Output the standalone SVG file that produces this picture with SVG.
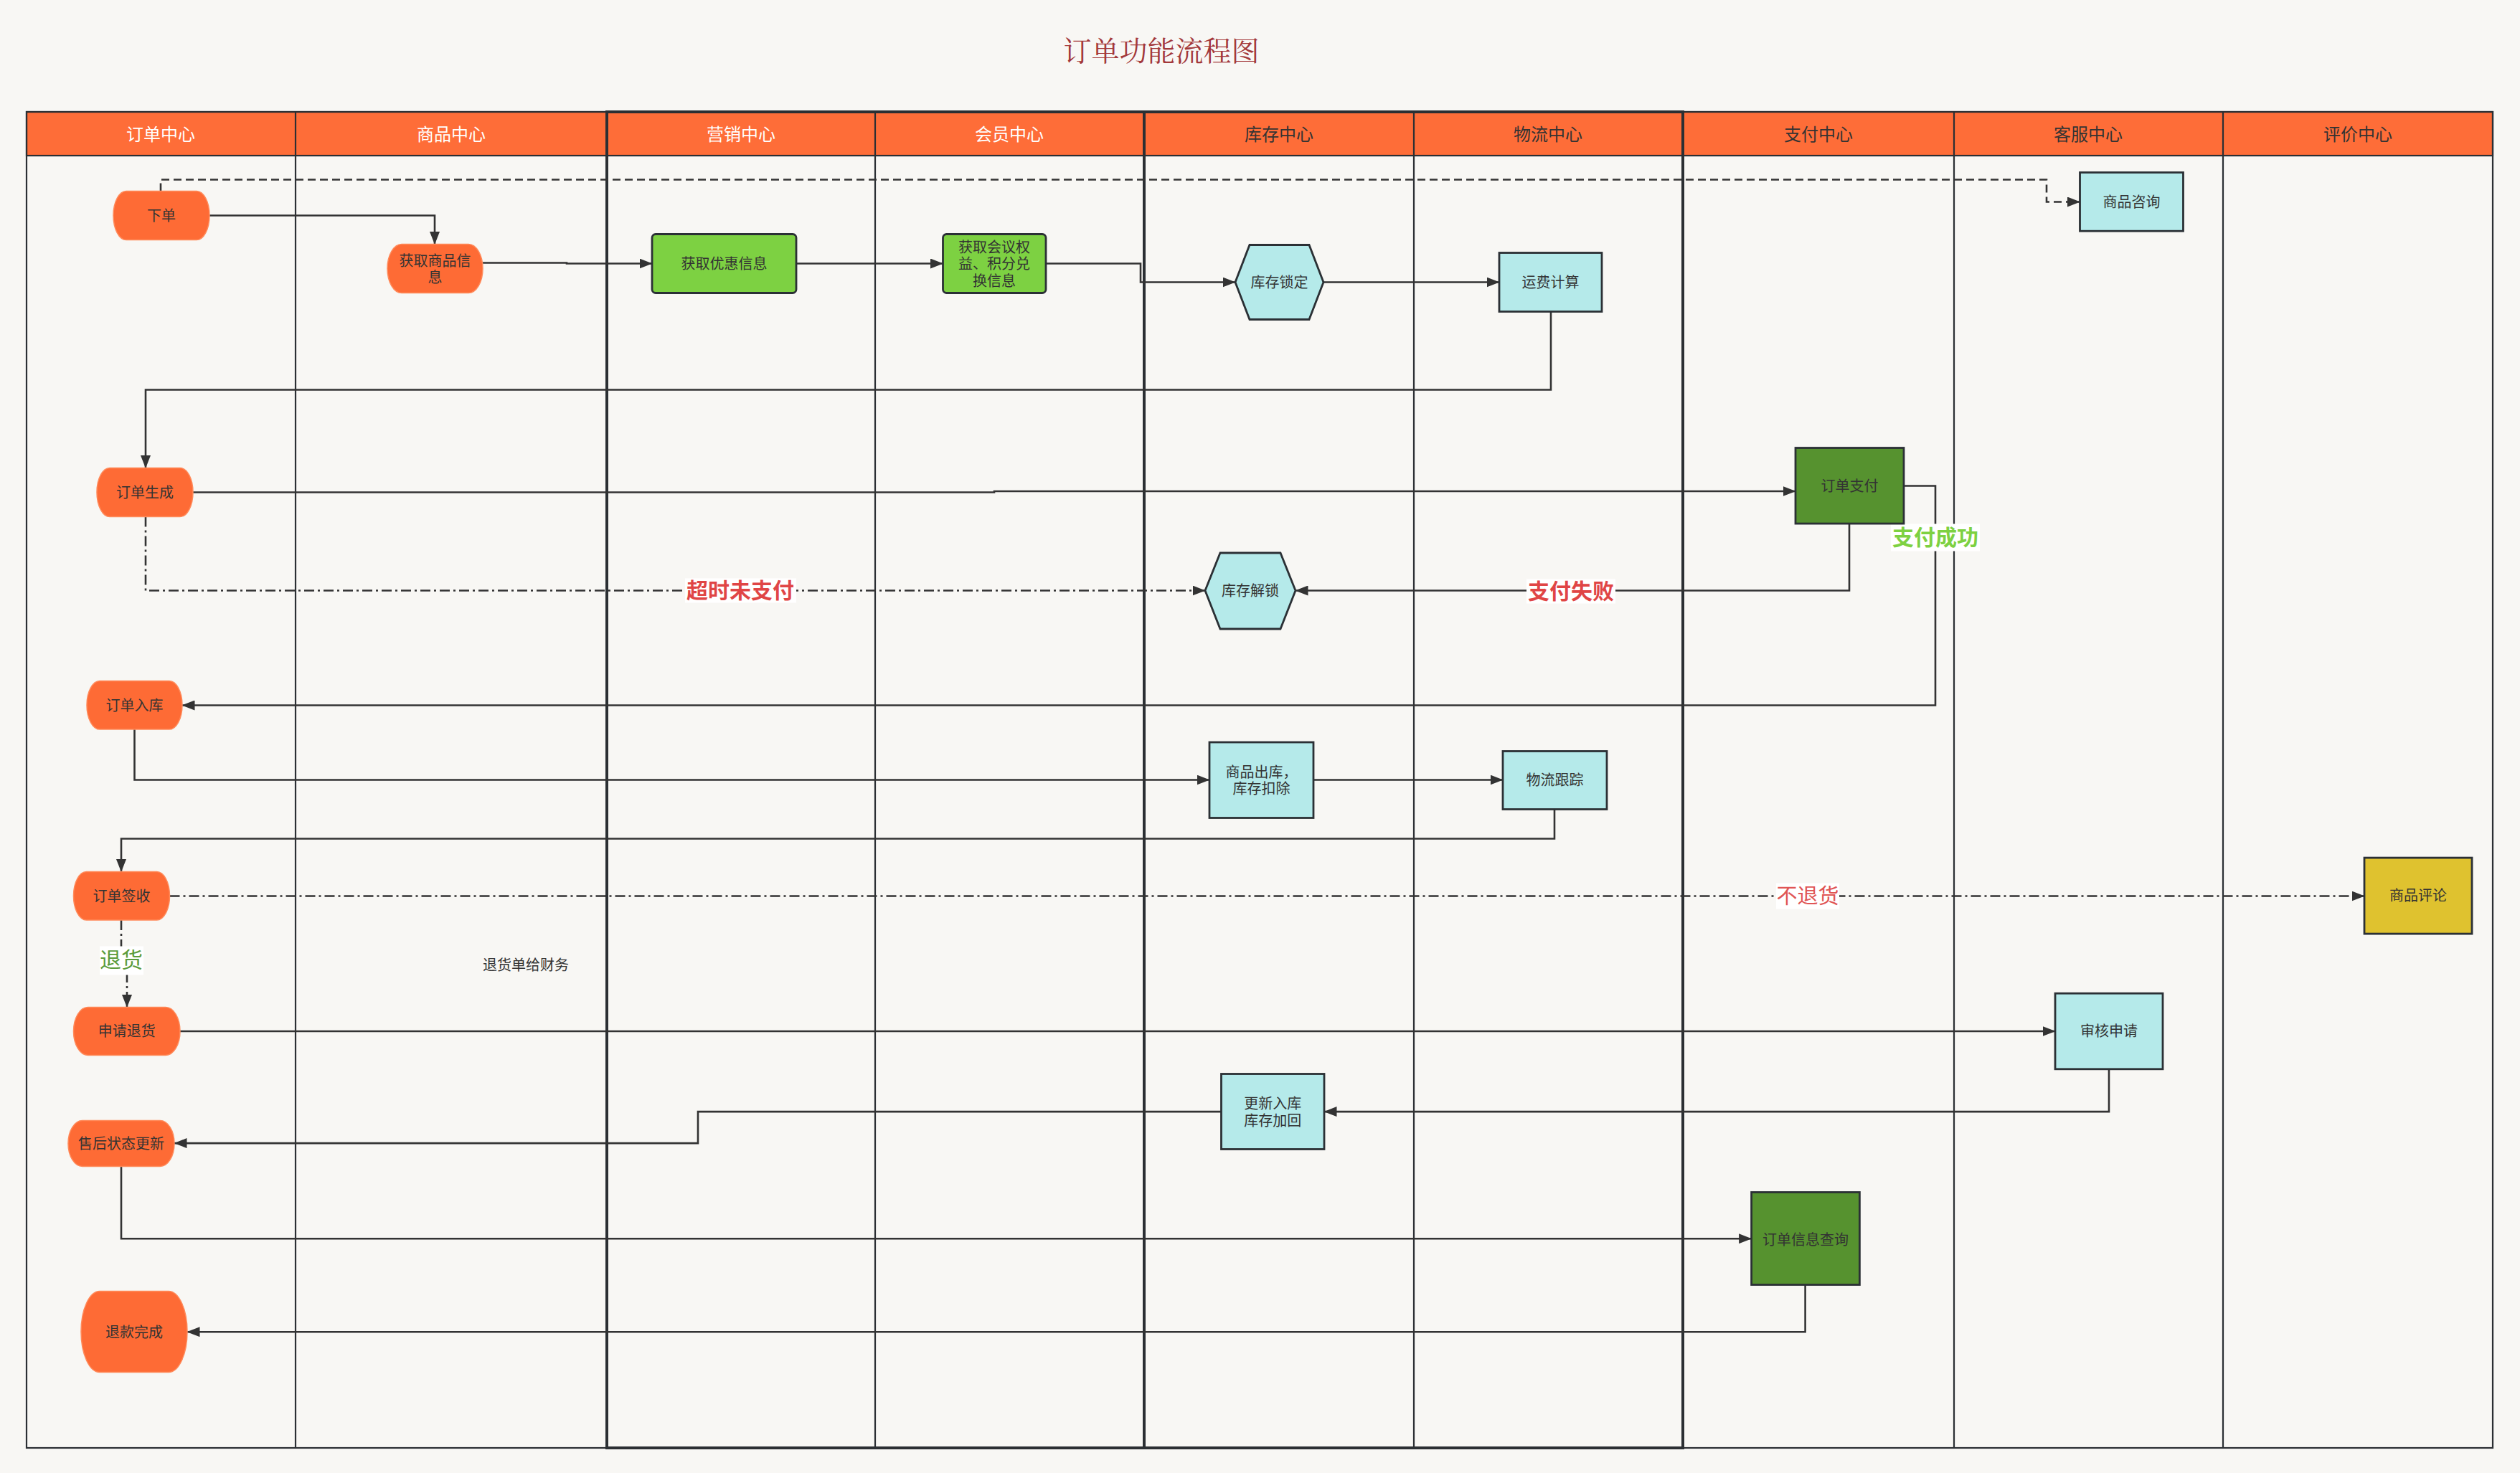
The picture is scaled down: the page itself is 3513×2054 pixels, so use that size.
<svg xmlns="http://www.w3.org/2000/svg" width="3513" height="2054" viewBox="0 0 3513 2054">
<style>
text{font-family:"Liberation Sans","Noto Sans CJK SC",sans-serif;dominant-baseline:central;text-anchor:middle}
.lane{fill:none;stroke:#2b2f33;stroke-width:2.2}
.thick{fill:none;stroke:#2b2f33;stroke-width:4}
.hdr{fill:#FE6D38;stroke:#2b2f33;stroke-width:2.2}
.ht{font-size:24px}
.hw{fill:#ffffff}
.hd{fill:#333333}
.term{fill:#FE6B35;stroke:#FF8A5A;stroke-width:1.5}
.box{stroke:#2b3035;stroke-width:2.8}
.cyan{fill:#B5EAEA}
.lg{fill:#7DD142}
.dg{fill:#56922F}
.gold{fill:#DFC22F}
.nt{font-size:20px;fill:#333333}
.c{fill:none;stroke:#333333;stroke-width:2.6}
.dash{stroke-dasharray:11 6}
.dd{stroke-dasharray:14 5 3 5}
.lbg{fill:#ffffff}
.lb{font-size:30px;font-weight:bold}
</style>
<defs>
<marker id="ah" markerUnits="userSpaceOnUse" markerWidth="18" markerHeight="14" refX="17.5" refY="7" orient="auto"><path d="M0,0 L18,7 L0,14 z" fill="#333333"/></marker>
</defs>
<rect x="0" y="0" width="3513" height="2054" fill="#F8F7F4"/>
<text x="1619" y="68" style="font-family:'Noto Serif CJK SC','Noto Sans CJK SC',serif;font-size:39px;fill:#A3383A">订单功能流程图</text>
<g id="lanes">
<rect class="hdr" x="37" y="156" width="3438" height="61"/>
<rect class="lane" x="37" y="156" width="3438" height="1863"/>
<line class="lane" x1="412" y1="156" x2="412" y2="2019"/>
<line class="lane" x1="1220" y1="156" x2="1220" y2="2019"/>
<line class="lane" x1="1971" y1="156" x2="1971" y2="2019"/>
<line class="lane" x1="2724" y1="156" x2="2724" y2="2019"/>
<line class="lane" x1="3099" y1="156" x2="3099" y2="2019"/>
<rect class="thick" x="846" y="156" width="1500" height="1863"/>
<line class="thick" x1="1595" y1="156" x2="1595" y2="2019"/>
<line class="lane" x1="37" y1="217" x2="3475" y2="217"/>
<text class="ht hw" x="224" y="187">订单中心</text>
<text class="ht hw" x="629" y="187">商品中心</text>
<text class="ht hw" x="1033" y="187">营销中心</text>
<text class="ht hw" x="1407" y="187">会员中心</text>
<text class="ht hd" x="1783" y="187">库存中心</text>
<text class="ht hd" x="2158" y="187">物流中心</text>
<text class="ht hd" x="2535" y="187">支付中心</text>
<text class="ht hd" x="2911" y="187">客服中心</text>
<text class="ht hd" x="3287" y="187">评价中心</text>
</g>
<g id="connectors" transform="translate(0,1.5)">
<path class="c dash" d="M224,265 V249 H2853 V280 H2899.5" marker-end="url(#ah)"/>
<path class="c" d="M292,299 H606 V339" marker-end="url(#ah)"/>
<path class="c" d="M673,365 H790 V366 H909" marker-end="url(#ah)"/>
<path class="c" d="M1110,366 H1314.5" marker-end="url(#ah)"/>
<path class="c" d="M1458,366 H1590 V392 H1722" marker-end="url(#ah)"/>
<path class="c" d="M1845,392 H2090" marker-end="url(#ah)"/>
<path class="c" d="M2162,433 V542 H203 V651" marker-end="url(#ah)"/>
<path class="c" d="M269,685 H1386 V683.5 H2503" marker-end="url(#ah)"/>
<path class="c dd" d="M203,719 V822 H1680" marker-end="url(#ah)"/>
<path class="c" d="M2578,728.6 V822 H1806" marker-end="url(#ah)"/>
<path class="c" d="M2654,676 H2698 V982 H254" marker-end="url(#ah)"/>
<path class="c" d="M187.5,1015.6 V1086 H1686" marker-end="url(#ah)"/>
<path class="c" d="M1831,1086 H2095" marker-end="url(#ah)"/>
<path class="c" d="M2167,1127 V1168 H169 V1214" marker-end="url(#ah)"/>
<path class="c dd" d="M236.5,1248 H3296" marker-end="url(#ah)"/>
<path class="c dd" d="M169,1281.5 V1337 H177 V1403" marker-end="url(#ah)"/>
<path class="c" d="M251,1436.5 H2865" marker-end="url(#ah)"/>
<path class="c" d="M2940,1489.3 V1548.6 H1846" marker-end="url(#ah)"/>
<path class="c" d="M1702.5,1548.6 H973 V1592.6 H243" marker-end="url(#ah)"/>
<path class="c" d="M169,1625 V1725.7 H2441.6" marker-end="url(#ah)"/>
<path class="c" d="M2516.6,1790 V1855.7 H261" marker-end="url(#ah)"/>
<rect class="lbg" x="955" y="805" width="155" height="34"/>
<text class="lb" x="1032" y="822" fill="#E04545">超时未支付</text>
<rect class="lbg" x="2128" y="806" width="124" height="34"/>
<text class="lb" x="2190" y="823" fill="#E04545">支付失败</text>
<rect class="lbg" x="2636" y="729" width="124" height="38"/>
<text class="lb" x="2698" y="748" fill="#7DD142">支付成功</text>
<rect class="lbg" x="2476" y="1230" width="88" height="36"/>
<text x="2520" y="1248" style="font-size:29px;fill:#E05555">不退货</text>
<rect class="lbg" x="139" y="1318" width="61" height="40"/>
<text x="169" y="1337" style="font-size:30px;fill:#5B9B3A">退货</text>
<text x="733" y="1344" style="font-size:20px;fill:#333333">退货单给财务</text>
</g>
<g id="nodes" transform="translate(0,1.5)">
<g id="n-xiadan"><rect class="term" x="158" y="265" width="134" height="68" rx="18" ry="34"/><text class="nt" x="225" y="299">下单</text></g>
<g id="n-shangpin"><rect class="term" x="540" y="339" width="133" height="68" rx="20" ry="34"/><text class="nt" x="606.5" y="362">获取商品信</text><text class="nt" x="606.5" y="385">息</text></g>
<g id="n-youhui"><rect class="box lg" x="909" y="325" width="201" height="82" rx="5"/><text class="nt" x="1009.5" y="366">获取优惠信息</text></g>
<g id="n-huiyuan"><rect class="box lg" x="1314.5" y="325" width="143.5" height="82" rx="5"/><text class="nt" x="1386" y="343">获取会议权</text><text class="nt" x="1386" y="366.5">益、积分兑</text><text class="nt" x="1386" y="390">换信息</text></g>
<g id="n-suoding"><polygon class="box cyan" points="1722,392 1742,340 1825,340 1845,392 1825,444 1742,444"/><text class="nt" x="1783.5" y="392">库存锁定</text></g>
<g id="n-yunfei"><rect class="box cyan" x="2090" y="351" width="143" height="82"/><text class="nt" x="2161.5" y="392">运费计算</text></g>
<g id="n-zixun"><rect class="box cyan" x="2899.5" y="239" width="144" height="81.7"/><text class="nt" x="2971.5" y="280">商品咨询</text></g>
<g id="n-shengcheng"><rect class="term" x="135" y="651" width="134" height="68" rx="18" ry="34"/><text class="nt" x="202" y="685">订单生成</text></g>
<g id="n-zhifu"><rect class="box dg" x="2503" y="623" width="151" height="105.6"/><text class="nt" x="2578.5" y="676">订单支付</text></g>
<g id="n-jiesuo"><polygon class="box cyan" points="1680,822 1701,769.5 1785,769.5 1806,822 1785,875.5 1701,875.5"/><text class="nt" x="1743" y="822">库存解锁</text></g>
<g id="n-ruku"><rect class="term" x="121" y="948" width="133" height="67.6" rx="18" ry="33.8"/><text class="nt" x="187.5" y="982">订单入库</text></g>
<g id="n-chuku"><rect class="box cyan" x="1686" y="1033.5" width="145" height="105.5"/><text class="nt" x="1758.5" y="1075">商品出库，</text><text class="nt" x="1758.5" y="1098">库存扣除</text></g>
<g id="n-genzong"><rect class="box cyan" x="2095" y="1046" width="145" height="81"/><text class="nt" x="2167.5" y="1086.5">物流跟踪</text></g>
<g id="n-qianshou"><rect class="term" x="102.5" y="1214" width="134" height="67.5" rx="18" ry="33.7"/><text class="nt" x="169.5" y="1248">订单签收</text></g>
<g id="n-pinglun"><rect class="box gold" x="3296" y="1194.6" width="150" height="106"/><text class="nt" x="3371" y="1247.6">商品评论</text></g>
<g id="n-shenqing"><rect class="term" x="102.5" y="1403" width="148.5" height="67" rx="20" ry="33.5"/><text class="nt" x="176.75" y="1436.5">申请退货</text></g>
<g id="n-shenhe"><rect class="box cyan" x="2865" y="1383.7" width="150" height="105.6"/><text class="nt" x="2940" y="1436.5">审核申请</text></g>
<g id="n-gengxin"><rect class="box cyan" x="1702.5" y="1496" width="143.5" height="105"/><text class="nt" x="1774.25" y="1537">更新入库</text><text class="nt" x="1774.25" y="1561">库存加回</text></g>
<g id="n-shouhou"><rect class="term" x="95" y="1561" width="148" height="64" rx="20" ry="32"/><text class="nt" x="169" y="1593">售后状态更新</text></g>
<g id="n-chaxun"><rect class="box dg" x="2441.6" y="1661" width="150.8" height="129"/><text class="nt" x="2517" y="1727">订单信息查询</text></g>
<g id="n-tuikuan"><rect class="term" x="113" y="1799" width="148" height="113" rx="26" ry="56.5"/><text class="nt" x="187" y="1856">退款完成</text></g>
</g>
</svg>
